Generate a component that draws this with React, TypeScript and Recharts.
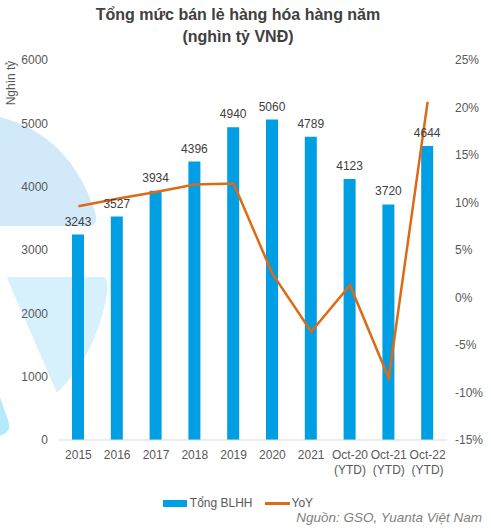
import React from 'react';
import { ComposedChart, Bar, Line, XAxis, YAxis, LabelList } from 'recharts';

const categories = ['2015', '2016', '2017', '2018', '2019', '2020', '2021', 'Oct-20 (YTD)', 'Oct-21 (YTD)', 'Oct-22 (YTD)'];
const salesValues = [3243, 3527, 3934, 4396, 4940, 5060, 4789, 4123, 3720, 4644];
const yoyValues = [9.6, 10.4, 11.1, 11.9, 12.0, 2.5, -3.6, 1.3, -8.5, 20.6];
const leftTicks = [0, 1000, 2000, 3000, 4000, 5000, 6000];
const rightTicks = [-15, -10, -5, 0, 5, 10, 15, 20, 25];

const FONT = '"Liberation Sans", Arial, sans-serif';
const BAR_COLOR = '#009fe3';
const LINE_COLOR = '#dd6a15';
const TEXT_COLOR = '#595959';

const chartData = categories.map((name, i) => ({
  name,
  sales: salesValues[i],
  yoy: yoyValues[i]
}));

// multi-line category labels: "Oct-20 (YTD)" -> two rows
const CategoryTick = (props: any) => {
  const { x, y, payload } = props;
  const parts = String(payload.value).split(' ');
  return (
    <text x={x} y={y} textAnchor="middle" fill={TEXT_COLOR} fontSize={12} fontFamily={FONT}>
      {parts.map((p, i) => (
        <tspan key={i} x={x} dy={i === 0 ? 11 : 15}>{p}</tspan>
      ))}
    </text>
  );
};

export default function App() {
  return (
    <div style={{ position: 'relative', width: '491px', height: '528px', background: '#ffffff', fontFamily: FONT, overflow: 'hidden' }}>
      <style>{`body { margin: 0; }`}</style>

      {/* background decoration */}
      <svg width={491} height={528} style={{ position: 'absolute', left: 0, top: 0 }}>
        <path d="M0,117 Q70,135 95,212 Q99,226 88,226 L0,226 Z" fill="#d2e9fa" />
        <path d="M8,277 L103,277 Q110,277 106,300 Q95,355 57,393 L10,285 Q6,277 8,277 Z" fill="#d6f1fb" />
        <path d="M0,397 L8,420 Q12,430 4,434 L0,436 Z" fill="#b3ebfc" />
        <text transform="translate(15,83) rotate(-90)" textAnchor="middle" fontSize={12} fill={TEXT_COLOR} fontFamily={FONT}>Nghìn tỷ</text>
      </svg>

      {/* title */}
      <div style={{ position: 'absolute', top: '4px', left: 0, width: '476px', textAlign: 'center', fontSize: '16px', fontWeight: 'bold', color: '#404040', lineHeight: '22px' }}>
        Tổng mức bán lẻ hàng hóa hàng năm<br />(nghìn tỷ VNĐ)
      </div>

      <div style={{ position: 'absolute', left: 0, top: 0 }}>
        <ComposedChart
          width={491}
          height={528}
          data={chartData}
          margin={{ top: 60, right: 0, bottom: 28, left: 0 }}
          barSize={12}
        >
          <XAxis
            dataKey="name"
            interval={0}
            tickLine={false}
            axisLine={{ stroke: '#d9d9d9' }}
            tick={<CategoryTick />}
            height={60}
          />
          <YAxis
            yAxisId="left"
            width={59}
            domain={[0, 6000]}
            ticks={leftTicks}
            axisLine={false}
            tickLine={false}
            tickMargin={5}
            tick={{ fill: TEXT_COLOR, fontSize: 12, fontFamily: FONT }}
          />
          <YAxis
            yAxisId="right"
            orientation="right"
            width={44}
            domain={[-15, 25]}
            ticks={rightTicks}
            axisLine={false}
            tickLine={false}
            tickFormatter={(v) => `${v}%`}
            tick={{ fill: TEXT_COLOR, fontSize: 12, fontFamily: FONT }}
          />
          <Bar yAxisId="left" dataKey="sales" name="Tổng BLHH" fill={BAR_COLOR} isAnimationActive={false}>
            <LabelList
              dataKey="sales"
              position="top"
              offset={9}
              style={{ fill: '#404040', fontSize: '12px', fontFamily: FONT }}
            />
          </Bar>
          <Line
            yAxisId="right"
            type="linear"
            dataKey="yoy"
            name="YoY"
            stroke={LINE_COLOR}
            strokeWidth={2.5}
            dot={false}
            isAnimationActive={false}
          />
        </ComposedChart>
      </div>

      {/* legend */}
      <div style={{
        position: 'absolute',
        top: '495px',
        left: 0,
        width: '476px',
        display: 'flex',
        justifyContent: 'center',
        alignItems: 'center',
        fontSize: '12px',
        color: TEXT_COLOR,
        lineHeight: '16px'
      }}>
        <span style={{ display: 'inline-block', width: '24px', height: '7px', backgroundColor: BAR_COLOR, marginRight: '3px' }} />
        <span style={{ marginRight: '12px' }}>Tổng BLHH</span>
        <span style={{ display: 'inline-block', width: '25px', height: '3px', backgroundColor: LINE_COLOR, marginRight: '2px' }} />
        <span>YoY</span>
      </div>

      {/* source */}
      <div style={{ position: 'absolute', top: '510px', right: '9px', fontSize: '13.5px', fontStyle: 'italic', color: '#7f7f7f' }}>
        Nguồn: GSO, Yuanta Việt Nam
      </div>
    </div>
  );
}
